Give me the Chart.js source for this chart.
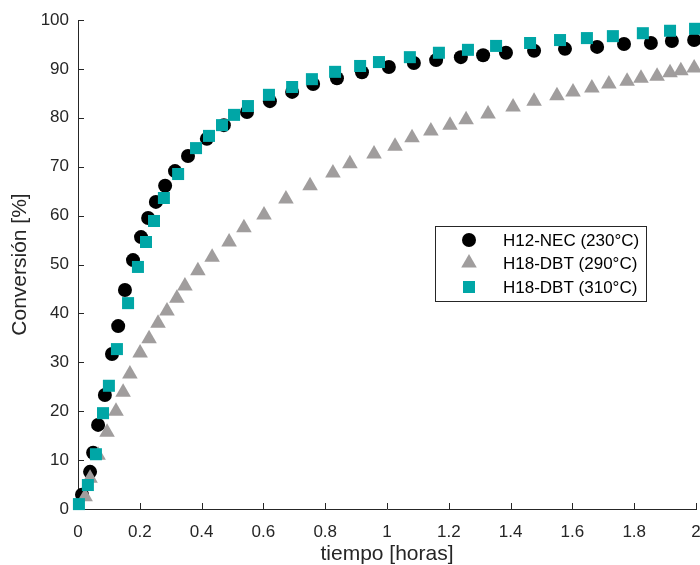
<!DOCTYPE html>
<html>
<head>
<meta charset="utf-8">
<script src="https://cdn.jsdelivr.net/npm/chart.js@4/dist/chart.umd.min.js"></script>
<style>
body{margin:0;background:#fff;}
</style>
</head>
<body>
<canvas id="myChart" width="700" height="565"></canvas>
<script>
// H12-NEC (230°C)
var nec_t = [0.013,0.039,0.049,0.065,0.087,0.110,0.130,0.152,0.178,0.204,0.227,0.252,0.282,0.314,0.356,0.417,0.472,0.547,0.621,0.693,0.761,0.838,0.919,1.006,1.087,1.159,1.239,1.311,1.385,1.476,1.576,1.680,1.767,1.854,1.922,1.994];
var nec_conv = [2.9,7.6,11.5,17.2,23.3,31.7,37.4,44.8,50.9,55.6,59.5,62.8,66.1,69.1,72.2,75.7,78.5,81.2,83.4,85.3,86.9,88.1,89.3,90.4,91.2,91.8,92.4,92.8,93.3,93.7,94.1,94.5,95.1,95.3,95.7,95.9];

// H18-DBT (290°C)
var dbt290_t = [0.023,0.039,0.065,0.094,0.123,0.146,0.168,0.201,0.230,0.259,0.288,0.320,0.346,0.388,0.434,0.489,0.537,0.602,0.673,0.751,0.825,0.880,0.958,1.026,1.081,1.142,1.204,1.256,1.327,1.408,1.476,1.550,1.602,1.663,1.718,1.777,1.822,1.874,1.916,1.951,1.994];
var dbt290_conv = [2.5,6.3,11.0,15.7,20.0,23.9,27.6,31.9,34.8,38.0,40.5,43.1,45.6,48.7,51.5,54.6,57.5,60.1,63.4,66.1,68.7,70.6,72.6,74.2,75.9,77.3,78.5,79.6,80.8,82.2,83.4,84.5,85.3,86.1,86.9,87.5,88.1,88.5,89.2,89.6,90.2];

// H18-DBT (310°C)
var dbt310_t = [0.003,0.032,0.058,0.081,0.100,0.126,0.162,0.194,0.220,0.246,0.278,0.324,0.382,0.424,0.466,0.505,0.550,0.618,0.693,0.757,0.832,0.913,0.974,1.074,1.168,1.262,1.353,1.463,1.560,1.647,1.731,1.828,1.916,1.997];
var dbt310_conv = [1.0,4.9,11.2,19.6,25.2,32.7,42.1,49.5,54.6,58.9,63.6,68.5,73.8,76.3,78.5,80.6,82.4,84.7,86.3,87.9,89.4,90.6,91.4,92.4,93.3,93.9,94.7,95.3,95.9,96.3,96.7,97.3,97.8,98.2];

var labels = ["H12-NEC (230°C)", "H18-DBT (290°C)", "H18-DBT (310°C)"];
var x_ticks = [0,0.2,0.4,0.6,0.8,1,1.2,1.4,1.6,1.8,2];
var y_ticks = [0,10,20,30,40,50,60,70,80,90,100];

var axisColor = "#262626";
var fontName = "'Liberation Sans', Arial, sans-serif";

function toPoints(xs, ys){
    var pts = [];
    for(var i=0;i<xs.length;i++){
        pts.push({x: xs[i], y: ys[i]});
    }
    return pts;
}

// tick marks point inward, like the original figure
var innerTicks = {
    id: "innerTicks",
    beforeDatasetsDraw: function(chart){
        var ctx = chart.ctx;
        var xs = chart.scales.x, ys = chart.scales.y;
        var area = chart.chartArea;
        ctx.save();
        ctx.strokeStyle = axisColor;
        ctx.lineWidth = 1;
        ctx.beginPath();
        x_ticks.forEach(function(v){
            var px = Math.round(xs.getPixelForValue(v)) + 0.5;
            ctx.moveTo(px, area.bottom);
            ctx.lineTo(px, area.bottom - 6);
        });
        y_ticks.forEach(function(v){
            var py = Math.round(ys.getPixelForValue(v)) + 0.5;
            ctx.moveTo(area.left, py);
            ctx.lineTo(area.left + 6, py);
        });
        ctx.stroke();
        ctx.restore();
    }
};

var boxLegend = {
    id: "boxLegend",
    afterDraw: function(chart){
        var ctx = chart.ctx;
        var left = 435, top = 226, w = 211, h = 75;
        var rows = [240, 263, 287];
        ctx.save();
        ctx.fillStyle = "#fff";
        ctx.fillRect(left, top, w, h);
        ctx.strokeStyle = axisColor;
        ctx.lineWidth = 1;
        ctx.strokeRect(left + 0.5, top + 0.5, w, h);
        ctx.font = "17px " + fontName;
        ctx.textBaseline = "middle";
        ctx.textAlign = "left";
        chart.data.datasets.forEach(function(ds, i){
            ctx.fillStyle = ds.backgroundColor;
            ctx.strokeStyle = ds.backgroundColor;
            Chart.helpers.drawPoint(ctx, {pointStyle: ds.pointStyle, radius: ds.pointRadius, borderWidth: 0}, 469, rows[i]);
            ctx.fillStyle = "#000";
            ctx.fillText(ds.label, 503, rows[i] + 1);
        });
        ctx.restore();
    }
};

new Chart("myChart", {
    type: "scatter",
    data: {
        datasets: [{
            label: labels[0],
            data: toPoints(nec_t, nec_conv),
            pointStyle: "circle",
            pointRadius: 7,
            backgroundColor: "#000000",
            borderColor: "#000000",
            borderWidth: 0,
            order: 3,
            clip: false
        }, {
            label: labels[1],
            data: toPoints(dbt290_t, dbt290_conv),
            pointStyle: "triangle",
            pointRadius: 9,
            backgroundColor: "#a09d9d",
            borderColor: "#a09d9d",
            borderWidth: 0,
            order: 2,
            clip: false
        }, {
            label: labels[2],
            data: toPoints(dbt310_t, dbt310_conv),
            pointStyle: "rect",
            pointRadius: 8.5,
            backgroundColor: "#00a6a6",
            borderColor: "#00a6a6",
            borderWidth: 0,
            order: 1,
            clip: false
        }]
    },
    options: {
        responsive: false,
        animation: false,
        layout: { autoPadding: false, padding: { left: 0, top: 20, right: 4, bottom: 0 } },
        plugins: {
            legend: { display: false },
            tooltip: { enabled: false }
        },
        scales: {
            x: {
                type: "linear",
                min: 0,
                max: 2,
                afterFit: function(s){ s.height = 56; s.paddingLeft = 0; s.paddingRight = 0; },
                afterBuildTicks: function(s){ s.ticks = x_ticks.map(function(v){ return {value: v}; }); },
                grid: { display: true, drawOnChartArea: false, drawTicks: false },
                border: { display: true, color: axisColor, width: 1 },
                ticks: {
                    color: "#262626",
                    font: { family: fontName, size: 17 },
                    padding: 13,
                    maxRotation: 0,
                    callback: function(v){ return String(Math.round(v * 10) / 10); }
                },
                title: {
                    display: true,
                    text: "tiempo [horas]",
                    color: "#262626",
                    font: { family: fontName, size: 21, lineHeight: 1 },
                    padding: 0
                }
            },
            y: {
                type: "linear",
                min: 0,
                max: 100,
                afterFit: function(s){ s.width = 78; s.paddingTop = 0; s.paddingBottom = 0; },
                afterBuildTicks: function(s){ s.ticks = y_ticks.map(function(v){ return {value: v}; }); },
                grid: { display: true, drawOnChartArea: false, drawTicks: false },
                border: { display: true, color: axisColor, width: 1 },
                ticks: {
                    color: "#262626",
                    font: { family: fontName, size: 17 },
                    padding: 9
                },
                title: {
                    display: true,
                    text: "Conversión [%]",
                    color: "#262626",
                    font: { family: fontName, size: 21, lineHeight: 1 },
                    padding: { top: 10, bottom: 0 }
                }
            }
        }
    },
    plugins: [innerTicks, boxLegend]
});
</script>
</body>
</html>
